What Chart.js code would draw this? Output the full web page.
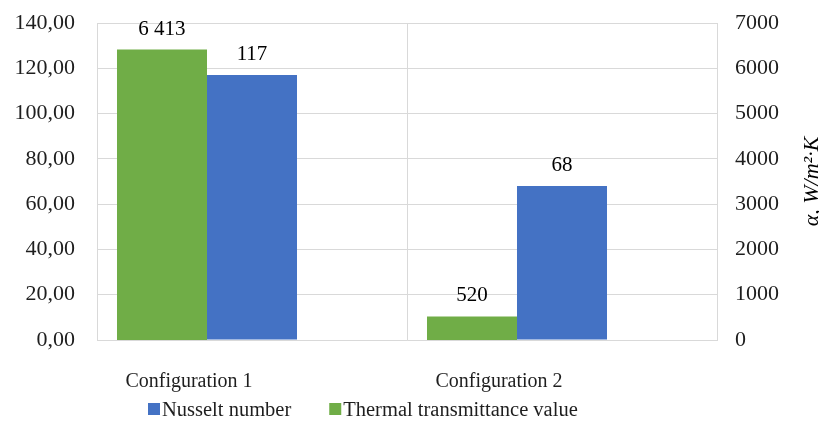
<!DOCTYPE html>
<html>
<head>
<meta charset="utf-8">
<script src="https://cdn.jsdelivr.net/npm/chart.js@4"></script>
<style>
  html, body { margin: 0; padding: 0; background: #fff; }
</style>
</head>
<body>
<canvas id="myChart" width="819" height="423"></canvas>
<script>
// categories and values
const categories = ['Configuration 1', 'Configuration 2'];
const nusselt = [117, 68];              // left axis
const transmittance = [6413, 520];      // right axis, W/m2K
const spacer = [null, null];            // empty slot Excel leaves after the two bars

const leftMax = 140, leftStep = 20;
const rightMax = 7000, rightStep = 1000;

const BLUE = '#4472c4';
const GREEN = '#70ad47';
const FONT = '"Liberation Serif", "Times New Roman", serif';
const TEXT = '#1e1e1e';
const GRID = '#d9d9d9';

// value labels above the bars
const barLabels = {
  id: 'barLabels',
  afterDatasetsDraw(chart) {
    const ctx = chart.ctx;
    ctx.save();
    ctx.font = '21px ' + FONT;
    ctx.fillStyle = '#000';
    ctx.textAlign = 'center';
    ctx.textBaseline = 'alphabetic';
    chart.data.datasets.forEach((ds, i) => {
      if (!ds.label) return;
      chart.getDatasetMeta(i).data.forEach((el, j) => {
        const v = ds.data[j];
        if (v == null) return;
        const txt = String(v).replace(/\B(?=(\d{3})+(?!\d))/g, ' ');
        ctx.fillText(txt, el.x, el.y - 15);
      });
    });
    ctx.restore();
  }
};

// right axis title reads bottom-to-top, so draw it by hand
const rightTitle = {
  id: 'rightTitle',
  afterDraw(chart) {
    const ctx = chart.ctx;
    const area = chart.chartArea;
    ctx.save();
    ctx.translate(812, (area.top + area.bottom) / 2);
    ctx.rotate(-Math.PI / 2);
    ctx.font = 'italic 22px ' + FONT;
    ctx.fillStyle = '#000';
    ctx.textAlign = 'center';
    ctx.textBaseline = 'middle';
    ctx.fillText('α, W/m²·K', 0, 0);
    ctx.restore();
  }
};

// legend under the category labels, drawn by hand so spacing matches Excel
const bottomLegend = {
  id: 'bottomLegend',
  afterDraw(chart) {
    const ctx = chart.ctx;
    const items = [
      { text: 'Nusselt number', color: BLUE },
      { text: 'Thermal transmittance value', color: GREEN }
    ];
    ctx.save();
    ctx.font = '20.5px ' + FONT;
    ctx.textBaseline = 'alphabetic';
    let x = 148;
    const base = 416;
    items.forEach(it => {
      ctx.fillStyle = it.color;
      ctx.fillRect(x, base - 13, 12, 12);
      ctx.fillStyle = TEXT;
      ctx.fillText(it.text, x + 14, base);
      x += 14 + ctx.measureText(it.text).width + 38;
    });
    ctx.restore();
  }
};

var ctx = document.getElementById('myChart');

var myChart = new Chart(ctx, {
  type: 'bar',
  data: {
    labels: categories,
    datasets: [
      {
        label: 'Thermal transmittance value',
        data: transmittance,
        backgroundColor: GREEN,
        yAxisID: 'y2'
      },
      {
        label: 'Nusselt number',
        data: nusselt,
        backgroundColor: BLUE,
        yAxisID: 'y'
      },
      {
        label: '',
        data: spacer,
        backgroundColor: 'rgba(0,0,0,0)',
        yAxisID: 'y'
      }
    ]
  },
  options: {
    responsive: false,
    animation: false,
    categoryPercentage: 0.871,
    barPercentage: 1,
    layout: { padding: { top: 23, left: 0, right: 0, bottom: 30 } },
    scales: {
      x: {
        grid: { color: GRID, offset: true, drawTicks: false },
        border: { color: GRID },
        ticks: {
          color: TEXT,
          font: { family: FONT, size: 20 },
          padding: 30,
          labelOffset: -63
        },
        afterFit: s => { s.height = 53; s.paddingLeft = 0; s.paddingRight = 0; }
      },
      y: {
        position: 'left',
        min: 0,
        max: leftMax,
        grid: { color: GRID, drawTicks: false },
        border: { color: GRID },
        ticks: {
          stepSize: leftStep,
          color: TEXT,
          font: { family: FONT, size: 22 },
          padding: 22,
          callback: v => v.toFixed(2).replace('.', ',')
        },
        afterFit: s => { s.width = 97; s.paddingTop = 0; s.paddingBottom = 0; }
      },
      y2: {
        position: 'right',
        min: 0,
        max: rightMax,
        grid: { display: false, drawTicks: false },
        border: { color: GRID },
        ticks: {
          stepSize: rightStep,
          color: TEXT,
          font: { family: FONT, size: 22 },
          padding: 18,
          callback: v => String(v)
        },
        afterFit: s => { s.width = 102; s.paddingTop = 0; s.paddingBottom = 0; }
      }
    },
    plugins: {
      title: { display: false },
      tooltip: { enabled: false },
      legend: { display: false }
    }
  },
  plugins: [barLabels, rightTitle, bottomLegend]
});
</script>
</body>
</html>
